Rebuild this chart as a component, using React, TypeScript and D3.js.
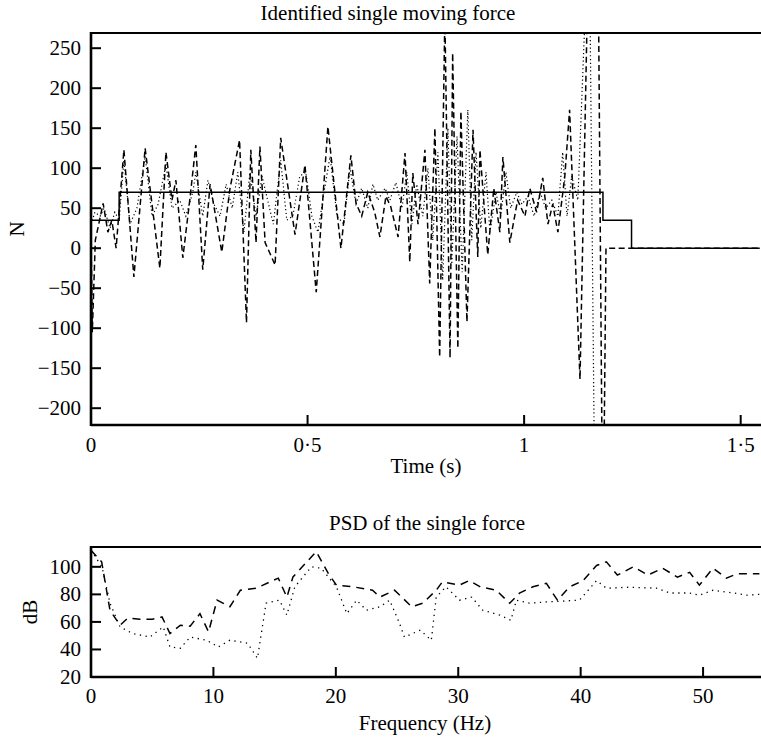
import React from "react";
import * as d3 from "d3";

// ---------- Top chart data (time in s, force in N) ----------
const trueT = [0, 0.065, 1.182, 1.248, 1.544];
const trueF = [35, 70, 35, 0, 0];

const dashT = [0, 0.003, 0.01, 0.028, 0.039, 0.048, 0.058, 0.076, 0.099, 0.125, 0.159, 0.173, 0.187, 0.196, 0.212, 0.228, 0.242, 0.258, 0.275, 0.302, 0.321, 0.343, 0.359, 0.369, 0.381, 0.39, 0.402, 0.425, 0.438, 0.471, 0.494, 0.52, 0.547, 0.577, 0.6, 0.612, 0.625, 0.639, 0.655, 0.667, 0.681, 0.692, 0.709, 0.725, 0.736, 0.743, 0.755, 0.771, 0.782, 0.794, 0.805, 0.817, 0.829, 0.835, 0.847, 0.854, 0.868, 0.882, 0.893, 0.898, 0.916, 0.93, 0.944, 0.951, 0.967, 0.985, 1.002, 1.013, 1.029, 1.043, 1.055, 1.066, 1.078, 1.094, 1.105, 1.129, 1.147, 1.17, 1.182, 1.189, 1.544];
const dashF = [20, -105, 10, 56, 20, 35, 0, 123, -36, 125, -25, 120, 60, 85, -12, 60, 129, -27, 80, -5, 75, 135, -93, 123, 7, 127, 7, -21, 138, 17, 104, -55, 152, 0, 116, 56, 40, 70, 45, 14, 65, 52, 14, 119, -17, 94, 30, 123, -44, 150, -136, 290, -137, 244, -125, 171, -92, 148, -11, 123, -8, 75, 20, 114, 7, 60, 40, 75, 45, 88, 30, 55, 20, 90, 173, -164, 330, 420, -400, 0, 0];

const dotT = [0, 0.009, 0.021, 0.03, 0.044, 0.055, 0.065, 0.076, 0.09, 0.106, 0.125, 0.141, 0.155, 0.173, 0.187, 0.205, 0.219, 0.235, 0.242, 0.258, 0.27, 0.284, 0.298, 0.312, 0.326, 0.339, 0.353, 0.367, 0.381, 0.395, 0.41, 0.421, 0.438, 0.452, 0.466, 0.482, 0.496, 0.51, 0.524, 0.538, 0.552, 0.568, 0.584, 0.598, 0.612, 0.625, 0.639, 0.651, 0.662, 0.679, 0.69, 0.704, 0.718, 0.729, 0.741, 0.752, 0.766, 0.778, 0.789, 0.801, 0.812, 0.824, 0.833, 0.845, 0.857, 0.87, 0.879, 0.889, 0.9, 0.912, 0.921, 0.935, 0.946, 0.958, 0.969, 0.983, 0.995, 1.009, 1.023, 1.037, 1.05, 1.064, 1.078, 1.089, 1.099, 1.11, 1.124, 1.15, 1.165];
const dotF = [30, 45, 40, 50, 25, 45, 35, 110, 30, 50, 115, 40, 55, 105, 50, 60, 40, 70, 95, 40, 85, 55, 40, 80, 50, 95, 20, 95, 40, 90, 55, 30, 110, 35, 40, 90, 95, 40, 20, 70, 115, 40, 30, 100, 55, 75, 50, 80, 60, 75, 60, 82, 50, 95, 30, 80, 40, 100, 10, 120, -40, 150, -20, 140, -30, 173, 10, 120, 25, 95, 20, 70, 40, 95, 50, 70, 55, 65, 40, 70, 50, 60, 40, 120, 40, 90, 60, 420, -420];

const forceTicks = [-200, -150, -100, -50, 0, 50, 100, 150, 200, 250];
const timeTicks = [0, 0.5, 1, 1.5];
const timeTickLabels = ["0", "0·5", "1", "1·5"];

// ---------- Bottom chart data (frequency in Hz, PSD in dB) ----------
const psdDashHz = [0, 0.87, 1.55, 2.37, 3.0, 4.0, 5.0, 5.8, 6.45, 7.3, 8.1, 8.9, 9.6, 10.3, 11.35, 12.2, 13.5, 15.3, 16.0, 16.5, 18.4, 19.4, 20.05, 21.4, 23.0, 23.6, 24.8, 26.2, 27.1, 28.2, 28.7, 30.1, 30.9, 31.8, 33.1, 34.2, 35.0, 36.1, 37.2, 38.1, 39.1, 40.2, 41.3, 42.1, 43.0, 44.3, 45.5, 46.7, 47.9, 48.9, 49.7, 50.8, 51.9, 52.8, 54.6];
const psdDashDb = [112, 103.6, 68.5, 57.6, 62.7, 62, 62, 63.6, 51.6, 57.6, 56.9, 66, 52.7, 75.8, 71, 83, 84.5, 91.8, 78, 92.7, 111, 95, 86.7, 85.5, 83, 78, 83, 71, 73.6, 83, 89, 86.7, 90, 85.5, 83, 73.6, 80.9, 85.5, 88, 75.8, 85.5, 90, 101, 103.6, 94, 100, 94, 99, 92.5, 96, 86.7, 99, 91.8, 95, 95];

const psdDotHz = [0, 0.9, 1.55, 2.37, 3.4, 4.8, 5.9, 6.45, 7.3, 8.1, 9.45, 10.4, 11.35, 12.8, 13.6, 14.3, 15.4, 16.0, 16.65, 18.0, 18.8, 20.05, 20.9, 21.7, 22.5, 23.6, 24.4, 25.2, 25.6, 26.9, 27.8, 28.2, 29.0, 30.1, 31.1, 32.0, 33.4, 34.3, 34.75, 35.8, 37.2, 39.9, 41.3, 42.1, 44.0, 46.2, 47.3, 48.9, 49.7, 50.8, 52.5, 53.6, 54.6];
const psdDotDb = [112, 100, 73.6, 56.4, 51.6, 49, 56.4, 41.8, 40.9, 49, 46.7, 41.8, 46.7, 44.5, 33.6, 73.6, 75.8, 64.9, 85.5, 100, 99, 85.5, 66, 75.8, 68.5, 71, 75.8, 59, 49, 54, 46.7, 78, 85.5, 75.8, 78, 68.5, 64.9, 61.2, 75.8, 73.6, 74.5, 75.8, 90, 84.5, 85.2, 84.5, 81, 81, 79.4, 83, 81, 79.4, 80];

const dbTicks = [20, 40, 60, 80, 100];
const hzTicks = [0, 10, 20, 30, 40, 50];

const FONT = "'Liberation Serif', 'Times New Roman', serif";

type Pt = [number, number];
const zip = (a: number[], b: number[]): Pt[] => a.map((v, i) => [v, b[i]]);

export default function App() {
  const W = 761;
  const H = 737;
  const L = 91;
  const R = 761;
  const FS = 21;

  // Top chart
  const t1 = 33, b1 = 425;
  const x1 = d3.scaleLinear().domain([0, 1.5446]).range([L, R - 1]);
  const y1 = d3.scaleLinear().domain([-221, 269]).range([b1, t1]);
  const line1 = d3.line<Pt>().x((d) => x1(d[0])).y((d) => y1(d[1]));
  const step1 = d3.line<Pt>().x((d) => x1(d[0])).y((d) => y1(d[1])).curve(d3.curveStepAfter);

  // Bottom chart
  const t2 = 547, b2 = 677;
  const x2 = d3.scaleLinear().domain([0, 54.65]).range([L, R - 1]);
  const y2 = d3.scaleLinear().domain([20, 114.4]).range([b2, t2]);
  const line2 = d3.line<Pt>().x((d) => x2(d[0])).y((d) => y2(d[1]));

  const tickLen = 10;

  return (
    <div style={{ position: "absolute", left: 0, top: 0 }}>
      <svg width={W} height={H} style={{ display: "block", background: "#fff" }} fontFamily={FONT}>
        <defs>
          <clipPath id="c1">
            <rect x={L} y={t1} width={R - L} height={b1 - t1} />
          </clipPath>
          <clipPath id="c2">
            <rect x={L} y={t2} width={R - L} height={b2 - t2} />
          </clipPath>
        </defs>

        {/* ---------- Top chart ---------- */}
        <text x={388} y={20} textAnchor="middle" fontSize={FS}>Identified single moving force</text>
        <g clipPath="url(#c1)">
          <path d={line1(zip(dotT, dotF)) || ""} fill="none" stroke="#000" strokeWidth={1.2} strokeDasharray="1.2,2.6" />
          <path d={line1(zip(dashT, dashF)) || ""} fill="none" stroke="#000" strokeWidth={1.5} strokeDasharray="6,3.5" />
          <path d={step1(zip(trueT, trueF)) || ""} fill="none" stroke="#000" strokeWidth={1.5} />
        </g>
        {/* frame */}
        <line x1={L} x2={R} y1={t1} y2={t1} stroke="#000" strokeWidth={2.2} />
        <line x1={L} x2={R} y1={b1} y2={b1} stroke="#000" strokeWidth={2.5} />
        <line x1={L} x2={L} y1={t1 - 1} y2={b1 + 1} stroke="#000" strokeWidth={2.6} />
        {forceTicks.map((v) => (
          <g key={"fy" + v}>
            <line x1={L} x2={L + tickLen} y1={y1(v)} y2={y1(v)} stroke="#000" strokeWidth={2} />
            <text x={81} y={y1(v) + 7} textAnchor="end" fontSize={FS}>
              {v < 0 ? "\u2212" + Math.abs(v) : String(v)}
            </text>
          </g>
        ))}
        {timeTicks.map((v, i) => (
          <g key={"tx" + v}>
            {v > 0 && <line x1={x1(v)} x2={x1(v)} y1={b1} y2={b1 - tickLen} stroke="#000" strokeWidth={2} />}
            <text x={x1(v)} y={452} textAnchor="middle" fontSize={FS}>{timeTickLabels[i]}</text>
          </g>
        ))}
        <text x={426} y={473} textAnchor="middle" fontSize={FS}>Time (s)</text>
        <text transform={`translate(24,229) rotate(-90)`} textAnchor="middle" fontSize={FS}>N</text>

        {/* ---------- Bottom chart ---------- */}
        <text x={427} y={530} textAnchor="middle" fontSize={FS}>PSD of the single force</text>
        <g clipPath="url(#c2)">
          <path d={line2(zip(psdDotHz, psdDotDb)) || ""} fill="none" stroke="#000" strokeWidth={1.3} strokeDasharray="1.3,4.5" />
          <path d={line2(zip(psdDashHz, psdDashDb)) || ""} fill="none" stroke="#000" strokeWidth={1.5} strokeDasharray="8,6" />
        </g>
        <line x1={L} x2={R} y1={t2} y2={t2} stroke="#000" strokeWidth={2.2} />
        <line x1={L} x2={R} y1={b2} y2={b2} stroke="#000" strokeWidth={2.5} />
        <line x1={L} x2={L} y1={t2 - 1} y2={b2 + 1} stroke="#000" strokeWidth={2.6} />
        {dbTicks.map((v) => (
          <g key={"dy" + v}>
            {v > 20 && <line x1={L} x2={L + tickLen} y1={y2(v)} y2={y2(v)} stroke="#000" strokeWidth={2} />}
            <text x={81} y={y2(v) + 7} textAnchor="end" fontSize={FS}>{String(v)}</text>
          </g>
        ))}
        {hzTicks.map((v) => (
          <g key={"hx" + v}>
            {v > 0 && <line x1={x2(v)} x2={x2(v)} y1={b2} y2={b2 - tickLen} stroke="#000" strokeWidth={2} />}
            <text x={x2(v)} y={703} textAnchor="middle" fontSize={FS}>{String(v)}</text>
          </g>
        ))}
        <text x={425} y={730} textAnchor="middle" fontSize={FS}>Frequency (Hz)</text>
        <text transform={`translate(37,612) rotate(-90)`} textAnchor="middle" fontSize={FS}>dB</text>
      </svg>
    </div>
  );
}
